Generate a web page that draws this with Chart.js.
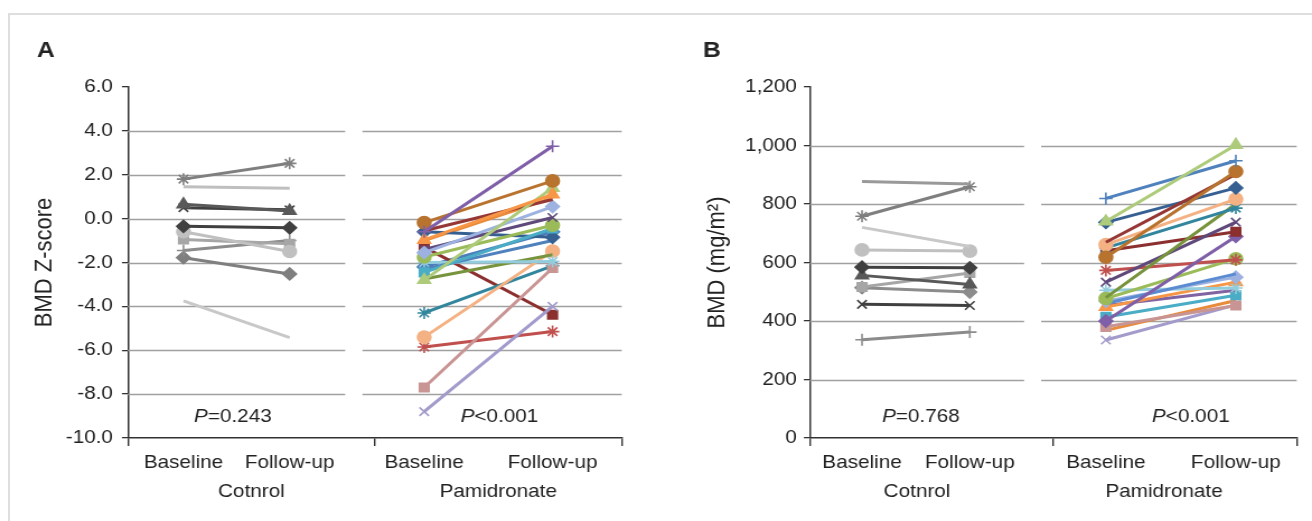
<!DOCTYPE html>
<html>
<head>
<meta charset="utf-8">
<script src="https://cdn.jsdelivr.net/npm/chart.js@4"></script>
<style>
html, body { margin: 0; padding: 0; background: #fff; }
#wrap { position: relative; width: 1312px; height: 521px; overflow: hidden; }
#frame { position: absolute; left: 8px; top: 13px; width: 1400px; height: 600px; border-left: 2px solid #dedede; border-top: 2px solid #dedede; }
canvas { position: absolute; top: 0; }
</style>
</head>
<body>
<div id="wrap">
  <div id="frame"></div>
  <canvas id="chartA" width="586" height="521" style="left:0;width:656px;height:521px"></canvas>
  <canvas id="chartB" width="586" height="521" style="left:656px;width:656px;height:521px"></canvas>
</div>
<script>
// values
const categories = ['Baseline', 'Follow-up', 'Baseline', 'Follow-up'];
const groups = ['Cotnrol', 'Pamidronate'];

const zTicks = [-10, -8, -6, -4, -2, 0, 2, 4, 6];
const zCtrlBase   = [1.8, 1.45, 0.65, 0.5, -0.35, -0.6, -0.95, -1.45, -1.78, -3.75];
const zCtrlFollow = [2.52, 1.38, 0.35, 0.4, -0.42, -1.5, -1.15, -1.0, -2.52, -5.42];
const zPamBase   = [-0.6, -0.18, -0.97, -2.8, -0.55, -1.55, -1.4, -1.75, -2.45, -0.6, -2.3, -2.0, -2.75, -5.4, -7.7, -8.8, -4.3, -5.85, -1.3, -1.0, -2.2];
const zPamFollow = [3.3, 1.72, 1.1, 1.4, 0.87, 0.55, 0.05, -0.3, -0.45, -0.85, -1.0, -1.95, -1.65, -1.48, -2.25, -4.0, -2.15, -5.15, -4.38, 0.95, -0.6];
const zP = ['=0.243', '<0.001'];

const bmdTicks = [0, 200, 400, 600, 800, 1000, 1200];
const bmdCtrlBase   = [877, 758, 720, 643, 584, 556, 516, 514, 457, 336];
const bmdCtrlFollow = [868, 859, 655, 639, 582, 525, 564, 499, 453, 362];
const bmdPamBase   = [740, 819, 618, 669, 737, 661, 650, 480, 533, 640, 400, 573, 477, 460, 468, 505, 448, 453, 414, 380, 368, 335];
const bmdPamFollow = [1002, 948, 911, 902, 855, 817, 786, 800, 738, 705, 689, 609, 613, 561, 550, 513, 533, 505, 488, 453, 470, 455];
const bmdP = ['=0.768', '<0.001'];

// series looks
const ctrlStyleA = [['#7f7f7f','star'],['#bfbfbf',null],['#595959','triangle'],['#404040','crossRot'],['#404040','rectRot'],
  ['#c0c0c0','circle'],['#a6a6a6','rect'],['#8c8c8c','cross'],['#7f7f7f','rectRot'],['#c8c8c8',null]];
const ctrlStyleB = [['#999999',null],['#7f7f7f','star'],['#c8c8c8',null],['#c0c0c0','circle'],['#404040','rectRot'],
  ['#595959','triangle'],['#a6a6a6','rect'],['#8c8c8c','rectRot'],['#404040','crossRot'],['#8c8c8c','cross']];
const pamStyleA = [['#7f5fa8','cross'],['#b8732f','circle'],['#f79646','triangle'],['#aecb7b','triangle'],['#953735',null],
  ['#9db2e0','rectRot'],['#5f497a','crossRot'],['#9bbb59','circle'],['#4bacc6','rect'],['#366092','rectRot'],['#4f81bd',null],
  ['#93cddd','star'],['#77933c',null],['#f4b183','circle'],['#c89594','rect'],['#a29bcb','crossRot'],['#31859c','star'],
  ['#c0504d','star'],['#8b2f2f','rect'],['#e88b3a',null],['#4a7ebb','rectRot']];
const pamStyleB = [['#aecb7b','triangle'],['#4f81bd','cross'],['#b8732f','circle'],['#953735',null],['#366092','rectRot'],
  ['#f4b183','circle'],['#31859c','star'],['#77933c',null],['#5f497a','crossRot'],['#8b2f2f','rect'],['#7f5fa8','rectRot'],
  ['#c0504d','star'],['#9bbb59','circle'],['#5b8bd0',null],['#9db2e0','rectRot'],['#93cddd','star'],['#f79646','triangle'],
  ['#8064a2',null],['#4bacc6','rect'],['#c89594','rect'],['#e88b3a',null],['#a29bcb','crossRot']];

const S = 1.12; // the figure is stretched sideways
const FONT = '"Liberation Sans", Arial, Helvetica, sans-serif';
Chart.defaults.font.family = FONT;
Chart.defaults.font.size = 18.5;
Chart.defaults.color = '#222';

const panelDecor = {
  id: 'panelDecor',
  beforeDatasetsDraw(chart, args, o) {
    const {ctx, scales: {x, y}} = chart;
    ctx.save();
    ctx.strokeStyle = '#a0a0a0';
    ctx.lineWidth = 1.4;
    o.ticks.slice(1, -1).forEach(v => {
      const py = Math.round(y.getPixelForValue(v)) + 0.5;
      [[x.min, o.gap[0]], [o.gap[1], x.max]].forEach(([a, b]) => {
        ctx.beginPath();
        ctx.moveTo(x.getPixelForValue(a), py);
        ctx.lineTo(x.getPixelForValue(b), py);
        ctx.stroke();
      });
    });
    ctx.restore();
  },
  afterDraw(chart, args, o) {
    const {ctx, chartArea, scales: {x}} = chart;
    ctx.save();
    ctx.fillStyle = '#222';
    ctx.textBaseline = 'middle';
    o.pText.forEach((t, i) => {
      const it = 'italic 18.5px ' + FONT, rg = '18.5px ' + FONT;
      ctx.font = it; const w1 = ctx.measureText('P').width;
      ctx.font = rg; const w2 = ctx.measureText(t).width;
      const x0 = x.getPixelForValue(o.pPos[i]) - (w1 + w2) / 2;
      const py = chartArea.bottom - 21;
      ctx.font = it; ctx.fillText('P', x0, py);
      ctx.font = rg; ctx.fillText(t, x0 + w1, py);
    });
    ctx.font = 'bold 22px ' + FONT;
    ctx.textBaseline = 'alphabetic';
    ctx.fillText(o.letter, o.letterX, 57);
    ctx.restore();
  }
};

function lineSets(base, follow, styles, xa, xb) {
  return base.map((v, i) => {
    const [c, m] = styles[i];
    return {
      data: [{x: xa, y: v}, {x: xb, y: follow[i]}],
      borderColor: c, backgroundColor: c,
      pointBackgroundColor: c, pointBorderColor: c,
      borderWidth: 3, pointBorderWidth: 1.6,
      pointStyle: m || 'circle', pointRadius: m ? (m === 'triangle' ? 6.5 : 6) : 0,
      xAxisID: 'x', yAxisID: 'y'
    };
  });
}

function buildPanel(id, p) {
  const L = v => (v - p.canvasLeft) / S;
  const axisRight = L(p.axisLeft);
  new Chart(document.getElementById(id), {
    type: 'line',
    data: {
      datasets: [
        ...lineSets(p.ctrlBase, p.ctrlFollow, p.ctrlStyle, p.cat[0], p.cat[1]),
        ...lineSets(p.pamBase, p.pamFollow, p.pamStyle, p.cat[2], p.cat[3])
      ]
    },
    options: {
      responsive: false,
      animation: false,
      events: [],
      layout: {padding: {left: 0, top: 87, right: 586 - L(p.axisRight), bottom: 15}},
      plugins: {
        legend: {display: false},
        tooltip: {enabled: false},
        panelDecor: {ticks: p.ticks, gap: [0.88, 0.95], pText: p.pText, pPos: p.pPos, letter: p.letter, letterX: L(p.letterX)}
      },
      scales: {
        x: {
          type: 'linear', min: 0, max: 2, position: 'bottom', weight: 0,
          afterBuildTicks: s => { s.ticks = [0, 1, 2].map(v => ({value: v})); },
          ticks: {display: false},
          grid: {drawOnChartArea: false, drawTicks: true, tickLength: 8, color: '#333', lineWidth: 1.4},
          border: {display: true, color: '#333', width: 1.5},
          afterFit: s => { s.height = 8; }
        },
        xCat: {
          type: 'linear', min: 0, max: 2, position: 'bottom', weight: 1,
          afterBuildTicks: s => { s.ticks = p.cat.map(v => ({value: v})); },
          ticks: {callback: (v, i) => categories[i], autoSkip: false, maxRotation: 0, padding: 6},
          grid: {display: false, drawTicks: false},
          border: {display: false},
          afterFit: s => { s.height = 30; }
        },
        xGrp: {
          type: 'linear', min: 0, max: 2, position: 'bottom', weight: 2,
          afterBuildTicks: s => { s.ticks = p.grp.map(v => ({value: v})); },
          ticks: {callback: (v, i) => groups[i], autoSkip: false, maxRotation: 0, padding: 5},
          grid: {display: false, drawTicks: false},
          border: {display: false},
          afterFit: s => { s.height = 30; }
        },
        y: {
          min: p.ticks[0], max: p.ticks[p.ticks.length - 1],
          afterBuildTicks: s => { s.ticks = p.ticks.map(v => ({value: v})); },
          ticks: {callback: p.fmt, padding: axisRight - 5.4 - L(p.labelRight)},
          grid: {drawOnChartArea: false, drawTicks: true, tickLength: 5.4, color: '#333', lineWidth: 1.3},
          border: {display: true, color: '#333', width: 1.5},
          title: {display: true, text: p.title, font: {size: 22}, color: '#222', padding: {top: L(p.titleX) - 13.2, bottom: 0}},
          afterFit: s => { s.width = axisRight; }
        }
      }
    },
    plugins: [panelDecor]
  });
}

buildPanel('chartA', {
  canvasLeft: 0, axisLeft: 128, axisRight: 622, labelRight: 113, titleX: 45, letterX: 37, letter: 'A',
  cat: [0.225, 0.655, 1.2, 1.72], grp: [0.5, 1.5], pPos: [0.425, 1.505],
  ticks: zTicks, fmt: v => v.toFixed(1), title: 'BMD Z-score', pText: zP,
  ctrlBase: zCtrlBase, ctrlFollow: zCtrlFollow, ctrlStyle: ctrlStyleA,
  pamBase: zPamBase, pamFollow: zPamFollow, pamStyle: pamStyleA
});

buildPanel('chartB', {
  canvasLeft: 656, axisLeft: 810, axisRight: 1297, labelRight: 797, titleX: 717, letterX: 703, letter: 'B',
  cat: [0.214, 0.657, 1.216, 1.75], grp: [0.44, 1.455], pPos: [0.456, 1.565],
  ticks: bmdTicks, fmt: v => v.toLocaleString('en-US'), title: 'BMD (mg/m²)', pText: bmdP,
  ctrlBase: bmdCtrlBase, ctrlFollow: bmdCtrlFollow, ctrlStyle: ctrlStyleB,
  pamBase: bmdPamBase, pamFollow: bmdPamFollow, pamStyle: pamStyleB
});
</script>
</body>
</html>
